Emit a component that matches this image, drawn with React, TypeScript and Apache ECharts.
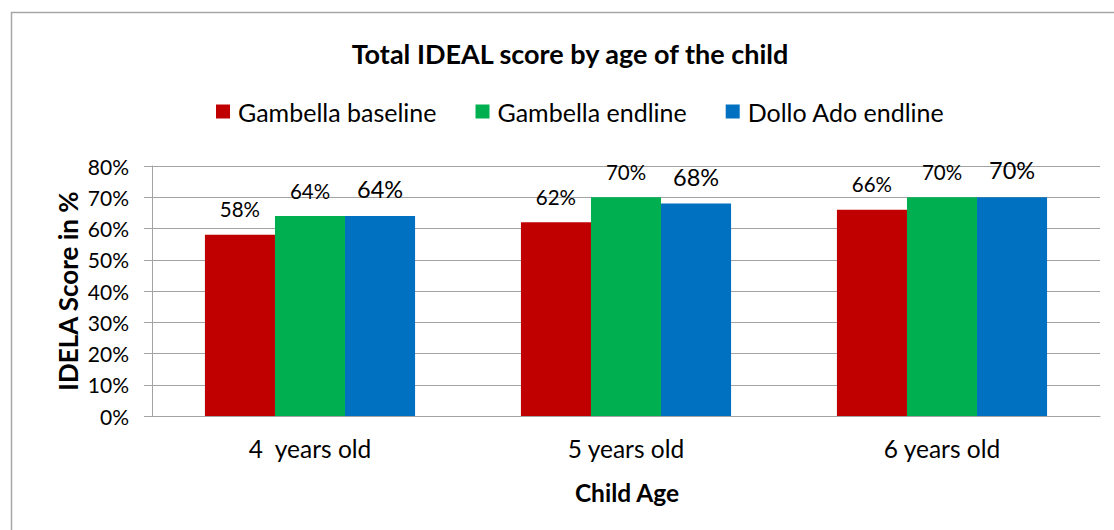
import React, { useEffect, useRef } from "react";
import * as echarts from "echarts";

// Age groups on the category axis
const categories = ["4  years old", "5 years old", "6 years old"];

// Total IDELA score (%) per survey
const gambellaBaseline = [58, 62, 66];
const gambellaEndline = [64, 70, 70];
const dolloAdoEndline = [64, 68, 70];

// Value axis range and step (percent)
const yMin = 0;
const yMax = 80;
const yStep = 10;

const seriesNames = ["Gambella baseline", "Gambella endline", "Dollo Ado endline"];
const seriesColors = ["#C00000", "#00B050", "#0070C0"];

const FONT = "Lato, 'Noto Sans', sans-serif";
const GRID_GRAY = "#a3a3a3";

export default function App() {
  const ref = useRef<HTMLDivElement>(null);

  useEffect(() => {
    if (!ref.current) return;
    const chart = echarts.init(ref.current, undefined, { renderer: "svg" });

    const makeSeries = (name: string, data: number[], color: string, labelSize: number) => ({
      name,
      type: "bar",
      data,
      barGap: "0%",
      barCategoryGap: "33.5%",
      itemStyle: { color },
      label: {
        show: true,
        position: "top",
        distance: 15,
        formatter: "{c}%",
        color: "#000",
        fontFamily: FONT,
        fontSize: labelSize,
      },
    });

    chart.setOption({
      animation: false,
      backgroundColor: "#fff",
      textStyle: { fontFamily: FONT },
      grid: { left: 152, right: 14, top: 166, bottom: 114, containLabel: false },
      legend: {
        left: 211,
        top: 94,
        itemWidth: 14,
        itemHeight: 14,
        itemGap: 39,
        itemStyle: { borderWidth: 0 },
        icon: "rect",
        textStyle: { fontFamily: FONT, fontSize: 25, color: "#000", padding: [0, 0, 0, 3] },
        data: seriesNames,
      },
      xAxis: {
        type: "category",
        data: categories,
        axisLine: { show: true, lineStyle: { color: GRID_GRAY, width: 1 } },
        axisTick: { show: false },
        axisLabel: { color: "#000", fontFamily: FONT, fontSize: 24.5, margin: 20 },
      },
      yAxis: {
        type: "value",
        min: yMin,
        max: yMax,
        interval: yStep,
        axisLine: { show: true, lineStyle: { color: GRID_GRAY, width: 1 } },
        axisTick: { show: true, length: 8, lineStyle: { color: GRID_GRAY, width: 1 } },
        splitLine: { show: true, lineStyle: { color: GRID_GRAY, width: 1 } },
        axisLabel: { color: "#000", fontFamily: FONT, fontSize: 21, margin: 23, formatter: "{value}%" },
      },
      series: [
        makeSeries(seriesNames[0], gambellaBaseline, seriesColors[0], 20.5),
        makeSeries(seriesNames[1], gambellaEndline, seriesColors[1], 20.5),
        makeSeries(seriesNames[2], dolloAdoEndline, seriesColors[2], 23.5),
      ],
      graphic: [
        {
          type: "rect",
          silent: true,
          shape: { x: 11.5, y: 12.5, width: 1200, height: 700 },
          style: { fill: "none", stroke: "#a6a6a6", lineWidth: 1.5 },
          z: -10,
        },
        {
          type: "text",
          x: 570,
          y: 53,
          style: {
            text: "Total IDEAL score by age of the child",
            fontFamily: FONT,
            fontWeight: "bold",
            fontSize: 27,
            fill: "#000",
            align: "center",
            verticalAlign: "middle",
          },
        },
        {
          type: "text",
          x: 68,
          y: 291,
          rotation: Math.PI / 2,
          style: {
            text: "IDELA Score in %",
            fontFamily: FONT,
            fontWeight: "bold",
            fontSize: 26,
            fill: "#000",
            align: "center",
            verticalAlign: "middle",
          },
        },
        {
          type: "text",
          x: 627,
          y: 492,
          style: {
            text: "Child Age",
            fontFamily: FONT,
            fontWeight: "bold",
            fontSize: 24.5,
            fill: "#000",
            align: "center",
            verticalAlign: "middle",
          },
        },
      ],
    });

    return () => chart.dispose();
  }, []);

  return (
    <div
      ref={ref}
      style={{ position: "fixed", left: 0, top: 0, width: 1114, height: 530, background: "#fff" }}
    />
  );
}
